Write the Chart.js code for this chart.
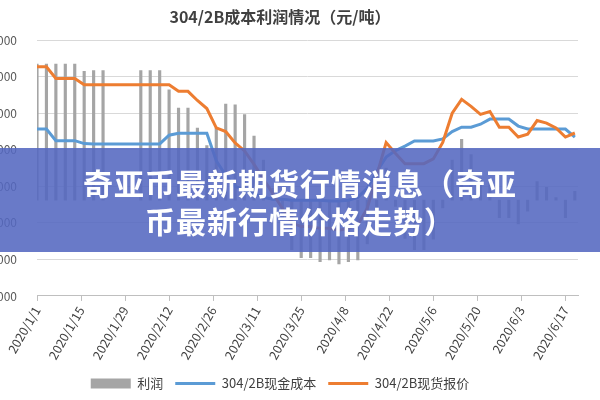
<!DOCTYPE html>
<html>
<head>
<meta charset="utf-8">
<script src="https://cdn.jsdelivr.net/npm/chart.js@4"></script>
<style>
  body { margin: 0; width: 600px; height: 400px; overflow: hidden; background: #fff; position: relative; font-family: "Noto Sans CJK SC", sans-serif; }
  #wrap { position: absolute; left: -18px; top: 0; width: 618px; height: 400px; }
  #banner { position: absolute; left: 0; top: 148px; width: 600px; height: 104px; background: rgba(84, 104, 192, 0.88);
    color: #fff; font-weight: bold; font-size: 30px; line-height: 38px; text-align: center; padding-top: 15px; box-sizing: border-box; letter-spacing: 1px; }
</style>
</head>
<body>
<div id="wrap"><canvas id="chart" width="618" height="400"></canvas></div>
<div id="banner">奇亚币最新期货行情消息（奇亚<br>币最新行情价格走势）</div>
<script>
// days since 2020/1/1, every 3 days
const days = [0,3,6,9,12,15,18,21,24,27,30,33,36,39,42,45,48,51,54,57,60,63,66,69,72,75,78,81,84,87,90,93,96,99,102,105,108,111,114,117,120,123,126,129,132,135,138,141,144,147,150,153,156,159,162,165,168,171];

const price = [17270,17270,16950,16950,16950,16780,16780,16780,16780,16780,16780,16780,16780,16780,16780,16600,16600,16350,16130,15600,15500,15190,14970,14600,14200,13800,13400,13000,12900,12900,12850,12850,12800,12850,12950,13400,14300,15200,14900,14620,14620,14620,14750,15200,16000,16380,16190,15970,16050,15620,15620,15350,15430,15800,15730,15600,15350,15460];

const cost = [15570,15570,15250,15250,15250,15170,15160,15160,15160,15160,15160,15160,15160,15160,15400,15450,15450,15450,15450,14700,14300,14000,13900,13800,13700,13650,13650,13620,13620,13620,13620,13600,13600,13620,13700,13950,14400,14800,14980,15100,15240,15240,15240,15300,15500,15620,15620,15700,15840,15840,15840,15650,15570,15570,15570,15570,15570,15350];

const profit = [1700,1700,1700,1700,1700,1610,1620,1620,null,null,null,1620,1620,1620,1380,1150,1150,900,680,900,1200,1190,1070,800,500,150,-250,-620,-720,-720,-770,-750,-800,-770,-750,-550,-100,400,-80,-480,-620,-620,-490,-100,500,760,570,270,210,-220,-220,-300,-140,230,160,30,-220,110];

const xTicks = [0,14,28,42,56,70,84,98,112,126,140,154,168];

const toPoints = (vals) => days.map((d, i) => ({ x: d, y: vals[i] }));

function dayLabel(v) {
  const dt = new Date(2020, 0, 1 + v);
  return dt.getFullYear() + "/" + (dt.getMonth() + 1) + "/" + dt.getDate();
}

const font = "'Noto Sans CJK SC', sans-serif";

new Chart(document.getElementById("chart"), {
  data: {
    datasets: [
      {
        type: "bar",
        label: "利润",
        data: toPoints(profit),
        yAxisID: "y1",
        backgroundColor: "#a5a5a5",
        barThickness: 2.5,
        pointStyle: "rect",
        order: 3,
      },
      {
        type: "line",
        label: "304/2B现金成本",
        data: toPoints(cost),
        borderColor: "#5b9bd5",
        backgroundColor: "#5b9bd5",
        borderWidth: 3,
        pointRadius: 0,
        pointStyle: "line",
        order: 2,
      },
      {
        type: "line",
        label: "304/2B现货报价",
        data: toPoints(price),
        borderColor: "#ed7d31",
        backgroundColor: "#ed7d31",
        borderWidth: 3,
        pointRadius: 0,
        pointStyle: "line",
        order: 1,
      },
    ],
  },
  options: {
    responsive: false,
    animation: false,
    layout: { padding: { right: 22, top: 0, bottom: 0 } },
    plugins: {
      title: {
        display: true,
        text: "304/2B成本利润情况（元/吨）",
        color: "#404040",
        font: { family: font, size: 16, weight: "bold" },
        padding: { top: 7, bottom: 14 },
      },
      legend: {
        position: "bottom",
        labels: {
          usePointStyle: true,
          pointStyleWidth: 40,
          boxHeight: 10,
          color: "#404040",
          font: { family: font, size: 13 },
          padding: 12,
          sort: (a, b) => a.datasetIndex - b.datasetIndex,
        },
      },
      tooltip: { enabled: false },
    },
    scales: {
      x: {
        type: "linear",
        min: 0,
        max: 172,
        offset: false,
        afterBuildTicks: (scale) => { scale.ticks = xTicks.map((v) => ({ value: v })); },
        ticks: {
          callback: (v) => dayLabel(v),
          maxRotation: 60,
          minRotation: 60,
          color: "#404040",
          font: { family: font, size: 12.5 },
        },
        grid: { offset: false, drawOnChartArea: false, drawTicks: true, tickLength: 5, color: "#bfbfbf" },
        border: { color: "#bfbfbf" },
      },
      y: {
        min: 11000,
        max: 18000,
        ticks: { stepSize: 1000, color: "#595959", font: { family: font, size: 12 }, padding: 20 },
        grid: { color: "#d9d9d9", drawTicks: false },
        border: { display: false },
        afterFit: (scale) => { scale.width = 55; },
      },
      y1: {
        display: false,
        min: -1200,
        max: 2000,
      },
    },
  },
});
</script>
</body>
</html>
